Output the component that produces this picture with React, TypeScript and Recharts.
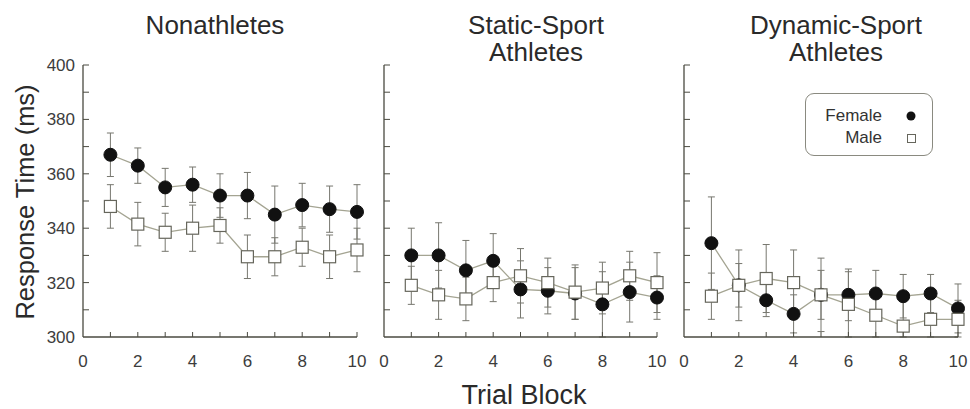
import React from 'react';
import { LineChart, Line, XAxis, YAxis, ErrorBar } from 'recharts';

// Trial blocks shared by all three panels
const trialBlocks = [1, 2, 3, 4, 5, 6, 7, 8, 9, 10];

// Nonathletes: mean response time (ms) and error (ms)
const nonFemale = [367, 363, 355, 356, 352, 352, 345, 348.5, 347, 346];
const nonFemaleErr = [8, 6.5, 7, 6.5, 8, 8.5, 10.5, 8, 8.5, 10];
const nonMale = [348, 341.5, 338.5, 340, 341, 329.5, 329.5, 333, 329.5, 332];
const nonMaleErr = [8, 8, 7, 8.5, 6.5, 8, 7, 7, 8, 8];

// Static-sport athletes
const staticFemale = [330, 330, 324.5, 328, 317.5, 317, 316, 312, 316.5, 314.5];
const staticFemaleErr = [10, 12, 11, 10, 10.5, 8.5, 9.5, 12, 11, 8];
const staticMale = [319, 315.5, 314, 320, 322.5, 320, 316.5, 318, 322.5, 320];
const staticMaleErr = [7, 9, 8, 7, 10, 9, 10, 9.5, 9, 11];

// Dynamic-sport athletes (bars that run into the axis end at 300)
const dynFemale = [334.5, 319, 313.5, 308.5, 315.5, 315.5, 316, 315, 316, 310.5];
const dynFemaleErr = [17, 8, 6, 7, 13.5, 9.5, 8.5, 8, 7, 9];
const dynMale = [315, 319, 321.5, 320, 315.5, 312, 308, 304, 306.5, 306.5];
const dynMaleErr: (number | number[])[] = [8.5, 13, 12.5, 12, 9, 12, 8, [4, 9], [6.5, 8], [6.5, 7]];

const xTicks = [0, 1, 2, 3, 4, 5, 6, 7, 8, 9, 10];
const yTicks = [300, 310, 320, 330, 340, 350, 360, 370, 380, 390, 400];

const FONT = '"Liberation Sans", Arial, Helvetica, sans-serif';
const AXIS = '#4a4a40';
const LINE = '#a4a492';
const BAR = '#77776f';
const TEXT = '#2a2a2a';

const buildRows = (
  female: number[],
  femaleErr: (number | number[])[],
  male: number[],
  maleErr: (number | number[])[]
) =>
  trialBlocks.map((block, i) => ({
    block,
    female: female[i],
    femaleErr: femaleErr[i],
    male: male[i],
    maleErr: maleErr[i],
  }));

const nonRows = buildRows(nonFemale, nonFemaleErr, nonMale, nonMaleErr);
const staticRows = buildRows(staticFemale, staticFemaleErr, staticMale, staticMaleErr);
const dynRows = buildRows(dynFemale, dynFemaleErr, dynMale, dynMaleErr);

// y ticks point into the plot; labels every 20 ms on the first panel only
const YTick = (props: any) => {
  const { x, y, payload, showLabel } = props;
  const axisX = x + 8;
  const v = payload.value;
  return (
    <g>
      {v > 300 && <line x1={axisX} x2={axisX + 6} y1={y} y2={y} stroke={AXIS} strokeWidth={1} />}
      {showLabel && v % 20 === 0 && (
        <text x={x} y={y} dy="0.35em" textAnchor="end" fontSize={17} fill="#3c3c3c" fontFamily={FONT}>
          {v}
        </text>
      )}
    </g>
  );
};

// x ticks point up at every block; labels on even blocks
const XTick = (props: any) => {
  const { x, y, payload } = props;
  const axisY = y - 8;
  const v = payload.value;
  return (
    <g>
      {v > 0 && <line x1={x} x2={x} y1={axisY} y2={axisY - 5} stroke={AXIS} strokeWidth={1} />}
      {v % 2 === 0 && (
        <text x={x} y={axisY + 24} dy="0.35em" textAnchor="middle" fontSize={17} fill="#3c3c3c" fontFamily={FONT}>
          {v}
        </text>
      )}
    </g>
  );
};

const SquareDot = (props: any) => {
  const { cx, cy, index } = props;
  if (cx == null || cy == null) return <g key={`sq-${index}`} />;
  return (
    <rect key={`sq-${index}`} x={cx - 6} y={cy - 6} width={12} height={12} fill="#ffffff" stroke="#66665c" strokeWidth={1.2} />
  );
};

type PanelProps = {
  data: ReturnType<typeof buildRows>;
  width: number;
  yAxisWidth: number;
  marginRight: number;
  showYLabels: boolean;
};

const Panel = ({ data, width, yAxisWidth, marginRight, showYLabels }: PanelProps) => (
  <LineChart width={width} height={380} data={data} margin={{ top: 65, right: marginRight, bottom: 0, left: 0 }}>
    <XAxis
      dataKey="block"
      type="number"
      domain={[0, 10]}
      ticks={xTicks}
      interval={0}
      height={43}
      tickLine={false}
      tickSize={6}
      tickMargin={2}
      axisLine={{ stroke: AXIS, strokeWidth: 1.3 }}
      tick={<XTick />}
    />
    <YAxis
      type="number"
      domain={[300, 400]}
      ticks={yTicks}
      interval={0}
      width={yAxisWidth}
      tickLine={false}
      tickSize={6}
      tickMargin={2}
      axisLine={{ stroke: AXIS, strokeWidth: 1.3 }}
      tick={<YTick showLabel={showYLabels} />}
    />
    <Line
      dataKey="female"
      stroke={LINE}
      strokeWidth={1.3}
      dot={{ r: 6.5, fill: '#111111', stroke: '#111111', strokeWidth: 1 }}
      activeDot={false}
      isAnimationActive={false}
    >
      <ErrorBar dataKey="femaleErr" direction="y" width={3.5} stroke={BAR} strokeWidth={1} />
    </Line>
    <Line
      dataKey="male"
      stroke={LINE}
      strokeWidth={1.3}
      dot={SquareDot}
      activeDot={false}
      isAnimationActive={false}
    >
      <ErrorBar dataKey="maleErr" direction="y" width={3.5} stroke={BAR} strokeWidth={1} />
    </Line>
  </LineChart>
);

const titleStyle = (center: number): React.CSSProperties => ({
  position: 'absolute',
  left: center - 150,
  top: 12,
  width: 300,
  textAlign: 'center',
  fontSize: 26,
  lineHeight: '27px',
  color: TEXT,
  fontFamily: FONT,
});

export default function App() {
  return (
    <div style={{ position: 'absolute', left: 0, top: 0, width: 970, height: 409, background: '#fff', fontFamily: FONT }}>
      <div style={titleStyle(215)}>Nonathletes</div>
      <div style={titleStyle(536)}>
        Static-Sport
        <br />
        Athletes
      </div>
      <div style={titleStyle(836)}>
        Dynamic-Sport
        <br />
        Athletes
      </div>

      <div style={{ position: 'absolute', left: 0, top: 0 }}>
        <Panel data={nonRows} width={370} yAxisWidth={83} marginRight={13} showYLabels />
      </div>
      <div style={{ position: 'absolute', left: 370, top: 0 }}>
        <Panel data={staticRows} width={300} yAxisWidth={14} marginRight={13} showYLabels={false} />
      </div>
      <div style={{ position: 'absolute', left: 670, top: 0 }}>
        <Panel data={dynRows} width={300} yAxisWidth={14} marginRight={12} showYLabels={false} />
      </div>

      <div
        style={{
          position: 'absolute',
          left: 25,
          top: 202,
          transform: 'translate(-50%, -50%) rotate(-90deg)',
          whiteSpace: 'nowrap',
          fontSize: 25.5,
          color: TEXT,
          fontFamily: FONT,
        }}
      >
        Response Time (ms)
      </div>
      <div
        style={{
          position: 'absolute',
          left: 374,
          top: 384,
          width: 300,
          textAlign: 'center',
          fontSize: 27,
          lineHeight: '22px',
          color: TEXT,
          fontFamily: FONT,
        }}
      >
        Trial Block
      </div>

      {/* legend box */}
      <div
        style={{
          position: 'absolute',
          left: 805,
          top: 93,
          width: 128,
          height: 63,
          boxSizing: 'border-box',
          border: '1.5px solid #8a8a80',
          borderRadius: 9,
          fontFamily: FONT,
          fontSize: 17,
          color: '#333',
        }}
      >
        <div style={{ position: 'absolute', right: 50, top: 12, lineHeight: '20px' }}>Female</div>
        <div style={{ position: 'absolute', right: 50, top: 34, lineHeight: '20px' }}>Male</div>
        <svg style={{ position: 'absolute', left: 0, top: 0 }} width={128} height={63}>
          <circle cx={105} cy={22} r={4.5} fill="#111" />
          <rect x={101.5} y={40.5} width={8} height={8} fill="#fff" stroke="#66665c" strokeWidth={1} />
        </svg>
      </div>
    </div>
  );
}
